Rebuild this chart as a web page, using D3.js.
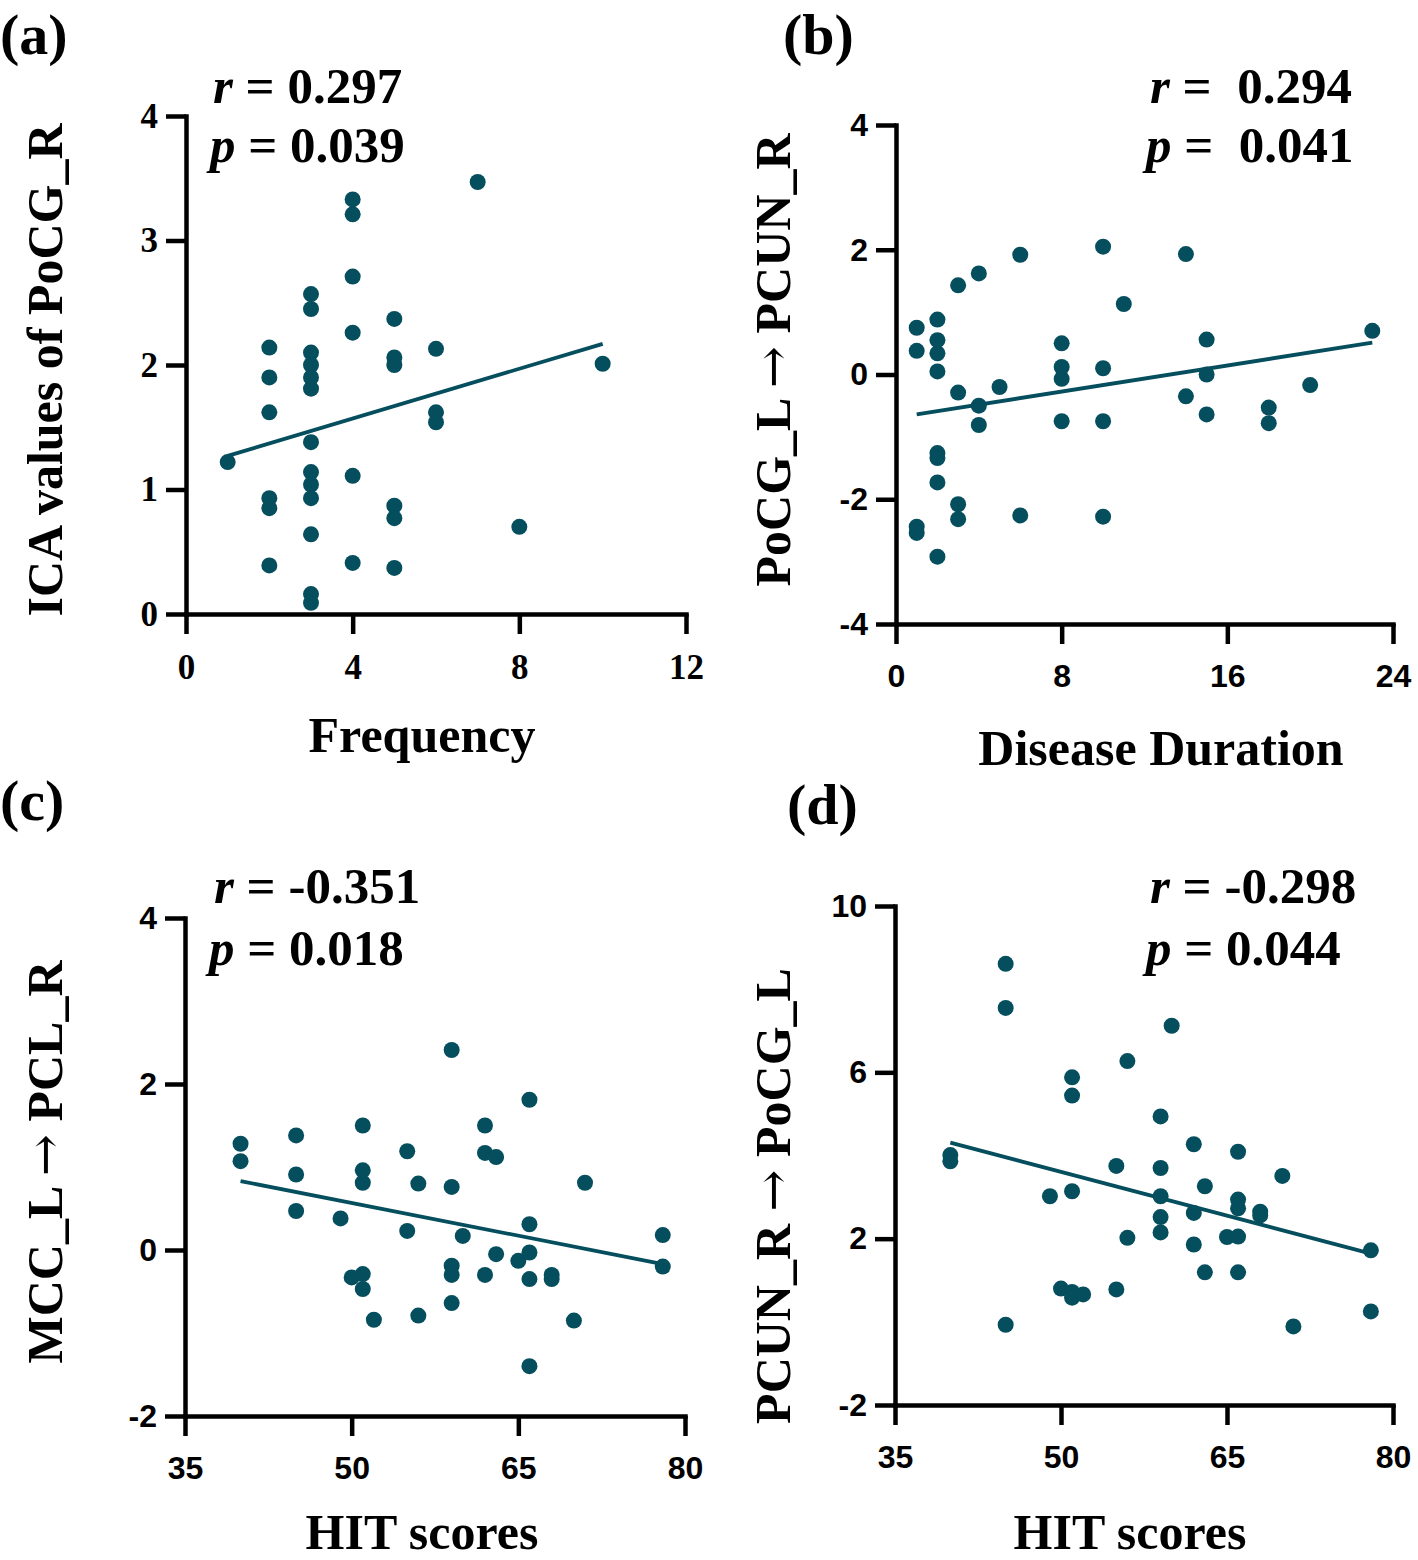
<!DOCTYPE html>
<html><head><meta charset="utf-8">
<script src="https://cdn.jsdelivr.net/npm/d3@7"></script>
<style>
html,body{margin:0;padding:0;background:#fff;}
svg{display:block;}
text{white-space:pre;}
</style></head>
<body>
<svg id="chart" width="1418" height="1560"></svg>
<script>
// ---------- DATA ----------
// Panel (a): Frequency vs ICA values of PoCG_R
const aX = [1, 2,2,2,2,2,2, 3,3,3,3,3,3,3,3,3,3,3,3,3, 4,4,4,4,4,4, 5,5,5,5,5,5, 6,6,6, 7, 8, 10];
const aY = [1.22, 2.14,1.90,1.62,0.93,0.85,0.39, 2.57,2.45,2.10,2.00,1.90,1.81,1.38,1.14,1.04,0.93,0.64,0.16,0.09, 3.33,3.21,2.71,2.26,1.11,0.41, 2.37,2.06,2.00,0.87,0.77,0.37, 2.13,1.62,1.54, 3.47, 0.70, 2.01];
const aFitX = [1, 10];
const aFitY = [1.27, 2.17];
const aXTicks = [0, 4, 8, 12];
const aYTicks = [0, 1, 2, 3, 4];

// Panel (b): Disease Duration vs PoCG_L -> PCUN_R
const bX = [1,1,1,1, 2,2,2,2,2,2,2,2, 3,3,3,3, 4,4,4, 5, 6,6, 8,8,8,8, 10,10,10,10, 11, 14,14, 15,15,15, 18,18, 20, 23];
const bY = [0.75,0.38,-2.44,-2.54, 0.88,0.55,0.34,0.05,-1.26,-1.34,-1.73,-2.92, 1.43,-0.29,-2.08,-2.32, 1.62,-0.50,-0.81, -0.20, 1.92,-2.26, 0.50,0.12,-0.07,-0.75, 2.05,0.10,-0.75,-2.28, 1.13, 1.93,-0.35, 0.56,0.00,-0.64, -0.53,-0.78, -0.17, 0.70];
const bFitX = [1, 23];
const bFitY = [-0.64, 0.51];
const bXTicks = [0, 8, 16, 24];
const bYTicks = [-4, -2, 0, 2, 4];

// Panel (c): HIT scores vs MCC_L -> PCL_R
const cX = [40,40, 45,45,45, 49, 50, 51,51,51,51,51, 52, 55,55, 56,56, 59,59,59,59,59, 60, 62,62,62, 63,63, 65, 66,66,66,66,66, 68,68, 70, 71, 78,78];
const cY = [1.28,1.07, 1.38,0.91,0.47, 0.38, -0.33, 1.50,0.96,0.81,-0.29,-0.47, -0.84, 1.19,0.23, 0.80,-0.79, 2.41,0.76,-0.19,-0.30,-0.64, 0.17, 1.50,1.17,-0.30, 1.12,-0.05, -0.13, 1.81,0.31,-0.03,-0.35,-1.40, -0.30,-0.35, -0.85, 0.81, 0.18,-0.20];
const cFitX = [40, 78];
const cFitY = [0.83, -0.17];
const cXTicks = [35, 50, 65, 80];
const cYTicks = [-2, 0, 2, 4];

// Panel (d): HIT scores vs PCUN_R -> PoCG_L
const dX = [40,40, 45,45,45, 49, 50, 51,51,51,51,51, 52, 55,55, 56,56, 59,59,59,59,59, 60, 62,62,62, 63,63, 65, 66,66,66,66,66, 68,68, 70, 71, 78,78];
const dY = [4.01,3.86, 8.61,7.55,-0.07, 3.02, 0.80, 5.88,5.44,3.14,0.72,0.58, 0.66, 3.75,0.78, 6.27,2.02, 4.94,3.70,3.02,2.52,2.15, 7.12, 4.27,2.62,1.86, 3.26,1.19, 2.04, 4.09,2.94,2.73,2.05,1.19, 2.65,2.56, 3.51, -0.11, 1.72,0.25];
const dFitX = [40, 78];
const dFitY = [4.31, 1.64];
const dXTicks = [35, 50, 65, 80];
const dYTicks = [-2, 2, 6, 10];

const panelLabels = ["(a)", "(b)", "(c)", "(d)"];
const xTitles = ["Frequency", "Disease Duration", "HIT scores", "HIT scores"];
// y titles as [before arrow, after arrow]; null second part = no arrow
const yTitles = [["ICA values of PoCG_R", null], ["PoCG_L ", " PCUN_R"], ["MCC_L ", " PCL_R"], ["PCUN_R ", " PoCG_L"]];
const rTexts = [" = 0.297", " =  0.294", " = -0.351", " = -0.298"];
const pTexts = [" = 0.039", " =  0.041", " = 0.018", " = 0.044"];

// ---------- LAYOUT ----------
const SERIF = "'Liberation Serif','Times New Roman',Times,serif";
const SANS = "'Liberation Sans',Arial,Helvetica,sans-serif";
const ARROWFONT = "'DejaVu Serif','DejaVu Sans',serif";
const COLOR = "#054e5e";

const panels = [
  {xs:aX, ys:aY, fx:aFitX, fy:aFitY, xt:aXTicks, yt:aYTicks, xd:[0,12], yd:[0,4],
   xr:[186,686], yr:[614,116], tickFont:SERIF, tickSize:35,
   label:[0,54], r:[213,103], p:[210,162], xT:[422,752], yT:[62,370]},
  {xs:bX, ys:bY, fx:bFitX, fy:bFitY, xt:bXTicks, yt:bYTicks, xd:[0,24], yd:[-4,4],
   xr:[896,1393], yr:[624,125], tickFont:SANS, tickSize:32,
   label:[783,54], r:[1150,103], p:[1146,162], xT:[1161,765], yT:[790,360]},
  {xs:cX, ys:cY, fx:cFitX, fy:cFitY, xt:cXTicks, yt:cYTicks, xd:[35,80], yd:[-2,4],
   xr:[185,685], yr:[1416,918], tickFont:SANS, tickSize:32,
   label:[0,820], r:[214,903], p:[209,965], xT:[422,1549], yT:[62,1162]},
  {xs:dX, ys:dY, fx:dFitX, fy:dFitY, xt:dXTicks, yt:dYTicks, xd:[35,80], yd:[-2,10],
   xr:[895,1393], yr:[1405,906], tickFont:SANS, tickSize:32,
   label:[787,824], r:[1150,903], p:[1146,965], xT:[1130,1549], yT:[790,1196]}
];

const svg = d3.select("#chart");

panels.forEach((P, i) => {
  const g = svg.append("g");
  const x = d3.scaleLinear().domain(P.xd).range(P.xr);
  const y = d3.scaleLinear().domain(P.yd).range(P.yr);

  const xa = g.append("g").attr("transform", `translate(0,${P.yr[0]})`)
    .call(d3.axisBottom(x).tickValues(P.xt).tickSize(20).tickSizeOuter(0).tickPadding(20).tickFormat(d => String(d)));
  const ya = g.append("g").attr("transform", `translate(${P.xr[0]},0)`)
    .call(d3.axisLeft(y).tickValues(P.yt).tickSize(20).tickSizeOuter(0).tickPadding(8).tickFormat(d => String(d)));

  [xa, ya].forEach(ax => {
    ax.select(".domain").attr("stroke", "#000").attr("stroke-width", 4.5).attr("stroke-linecap", "square");
    ax.selectAll(".tick line").attr("stroke", "#000").attr("stroke-width", 4.5);
    ax.selectAll(".tick text").attr("fill", "#000")
      .style("font-family", P.tickFont).style("font-weight", "bold").style("font-size", P.tickSize + "px");
  });

  const line = d3.line().x(d => x(d[0])).y(d => y(d[1]));
  g.append("path").datum(P.fx.map((v, k) => [v, P.fy[k]]))
    .attr("d", line).attr("fill", "none").attr("stroke", COLOR).attr("stroke-width", 3.8);

  g.append("g").selectAll("circle").data(P.xs.map((v, k) => [v, P.ys[k]])).join("circle")
    .attr("cx", d => x(d[0])).attr("cy", d => y(d[1])).attr("r", 8).attr("fill", COLOR);

  g.append("text").attr("x", P.label[0]).attr("y", P.label[1]).text(panelLabels[i])
    .style("font-family", SERIF).style("font-weight", "bold").style("font-size", "58px");

  const rt = g.append("text").attr("x", P.r[0]).attr("y", P.r[1])
    .style("font-family", SERIF).style("font-weight", "bold").style("font-size", "51px");
  rt.append("tspan").style("font-style", "italic").text("r");
  rt.append("tspan").text(rTexts[i]);
  const pt = g.append("text").attr("x", P.p[0]).attr("y", P.p[1])
    .style("font-family", SERIF).style("font-weight", "bold").style("font-size", "51px");
  pt.append("tspan").style("font-style", "italic").text("p");
  pt.append("tspan").text(pTexts[i]);

  g.append("text").attr("x", P.xT[0]).attr("y", P.xT[1]).attr("text-anchor", "middle")
    .style("font-family", SERIF).style("font-weight", "bold").style("font-size", "50px").text(xTitles[i]);

  const yt = g.append("text").attr("transform", `translate(${P.yT[0]},${P.yT[1]}) rotate(-90)`).attr("text-anchor", "middle")
    .style("font-family", SERIF).style("font-weight", "bold").style("font-size", "50px");
  yt.append("tspan").text(yTitles[i][0]);
  if (yTitles[i][1] !== null) {
    yt.append("tspan").style("font-family", ARROWFONT).style("font-weight", "normal").text("\u2192");
    yt.append("tspan").text(yTitles[i][1]);
  }
});
</script>
</body></html>
